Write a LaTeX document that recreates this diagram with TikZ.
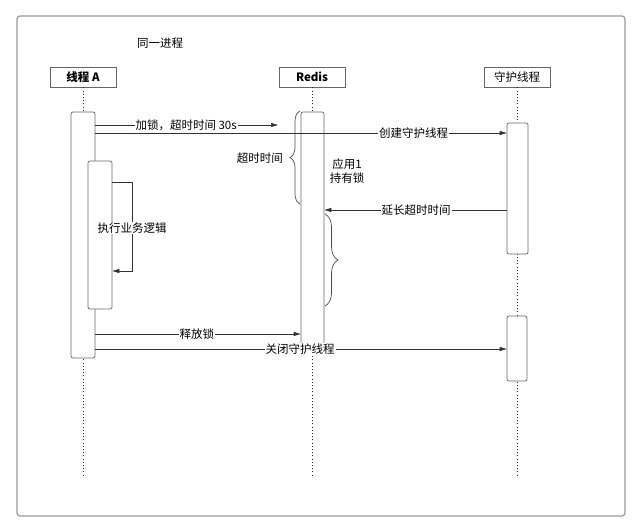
\documentclass[tikz,border=0pt]{standalone}
\usepackage{fontspec}
\setmainfont{Noto Sans CJK SC}
\usetikzlibrary{arrows.meta,decorations.pathreplacing,calc}
\begin{document}
\begin{tikzpicture}[x=1pt,y=-1pt,
  every node/.style={font=\fontsize{11.5}{14}\selectfont, text=black},
  frame/.style={draw=black!40, line width=1.2pt, rounded corners=3pt, minimum width=608pt, minimum height=500pt, inner sep=0pt},
  head/.style={draw=black!60, fill=white, line width=0.7pt, minimum width=66pt, minimum height=20pt, inner sep=0pt},
  act/.style={draw=black!60, fill=white, line width=0.7pt, rounded corners=2pt, inner sep=0pt},
  life/.style={draw=black!85, line width=1pt, dash pattern=on 1pt off 2.2pt},
  msg/.style={draw=black!80, line width=0.7pt, -{Triangle[length=7pt,width=4pt]}},
  lbl/.style={fill=white, inner sep=1pt},
  brc/.style={draw=black!70, line width=0.7pt, decorate, decoration={brace, amplitude=#1}}]
\useasboundingbox (0,0) rectangle (640,532);
\node[frame] (frame) at (321,266) {};
\node (title) at (160,43) {同一进程};

% headers
\node[head] (hA) at (83,77) {\bfseries 线程 A};
\node[head] (hR) at (312,77) {\bfseries Redis};
\node[head] (hG) at (517,77) {守护线程};

% lifeline ends
\coordinate (eA) at (83,476);
\coordinate (eR) at (312,476);
\coordinate (eG) at (517,476);
\draw[life] (hA.south) -- (eA);
\draw[life] (hR.south) -- (eR);
\draw[life] (hG.south) -- (eG);

% activation boxes
\node[act, minimum width=24pt, minimum height=246pt] (A1) at (83,235) {};
\node[act, minimum width=24pt, minimum height=148pt] (A2) at (100,235) {};
\node[act, minimum width=23pt, minimum height=238pt] (R1) at (312.5,231) {};
\node[act, minimum width=21pt, minimum height=131pt] (G1) at (517.5,188.5) {};
\node[act, minimum width=20pt, minimum height=65pt] (G2) at (517,348.5) {};

% message y levels
\coordinate (y1) at (0,125);
\coordinate (y2) at (0,133);
\coordinate (y3) at (0,210);
\coordinate (y4) at (0,334);
\coordinate (y5) at (0,349);
\coordinate (m1end) at (278,125);

% messages
\draw[msg] (A1.east |- y1) -- (m1end) node[lbl, pos=0.497] (l1) {加锁，超时时间 30s};
\draw[msg] (A1.east |- y2) -- (G1.west |- y2) node[lbl, pos=0.774] (l2) {创建守护线程};
\draw[msg] (G1.west |- y3) -- (R1.east |- y3) node[lbl, pos=0.497] (l3) {延长超时时间};
\draw[msg] (A1.east |- y4) -- (R1.west |- y4) node[lbl, pos=0.495] (l4) {释放锁};
\draw[msg] (A1.east |- y5) -- (G2.west |- y5) node[lbl, pos=0.498] (l5) {关闭守护线程};

% self loop
\coordinate (lp1) at (132,182);
\coordinate (lp2) at (132,271);
\draw[msg] (A2.east |- lp1) -- (lp1) -- (lp2) -- (A2.east |- lp2);
\node[lbl] (lself) at (132,228) {执行业务逻辑};

% braces
\coordinate (b1a) at (300,204);
\coordinate (b1b) at (300,111);
\draw[brc=10pt] (b1a) -- (b1b);
\node[anchor=east, inner sep=1pt] (tb1) at (284,158) {超时时间};
\coordinate (b2a) at (325,214);
\coordinate (b2b) at (325,306);
\draw[brc=13pt] (b2a) -- (b2b);

\node[align=center, inner sep=0pt] (hold) at (347,171) {应用1\\持有锁};
\end{tikzpicture}
\end{document}
